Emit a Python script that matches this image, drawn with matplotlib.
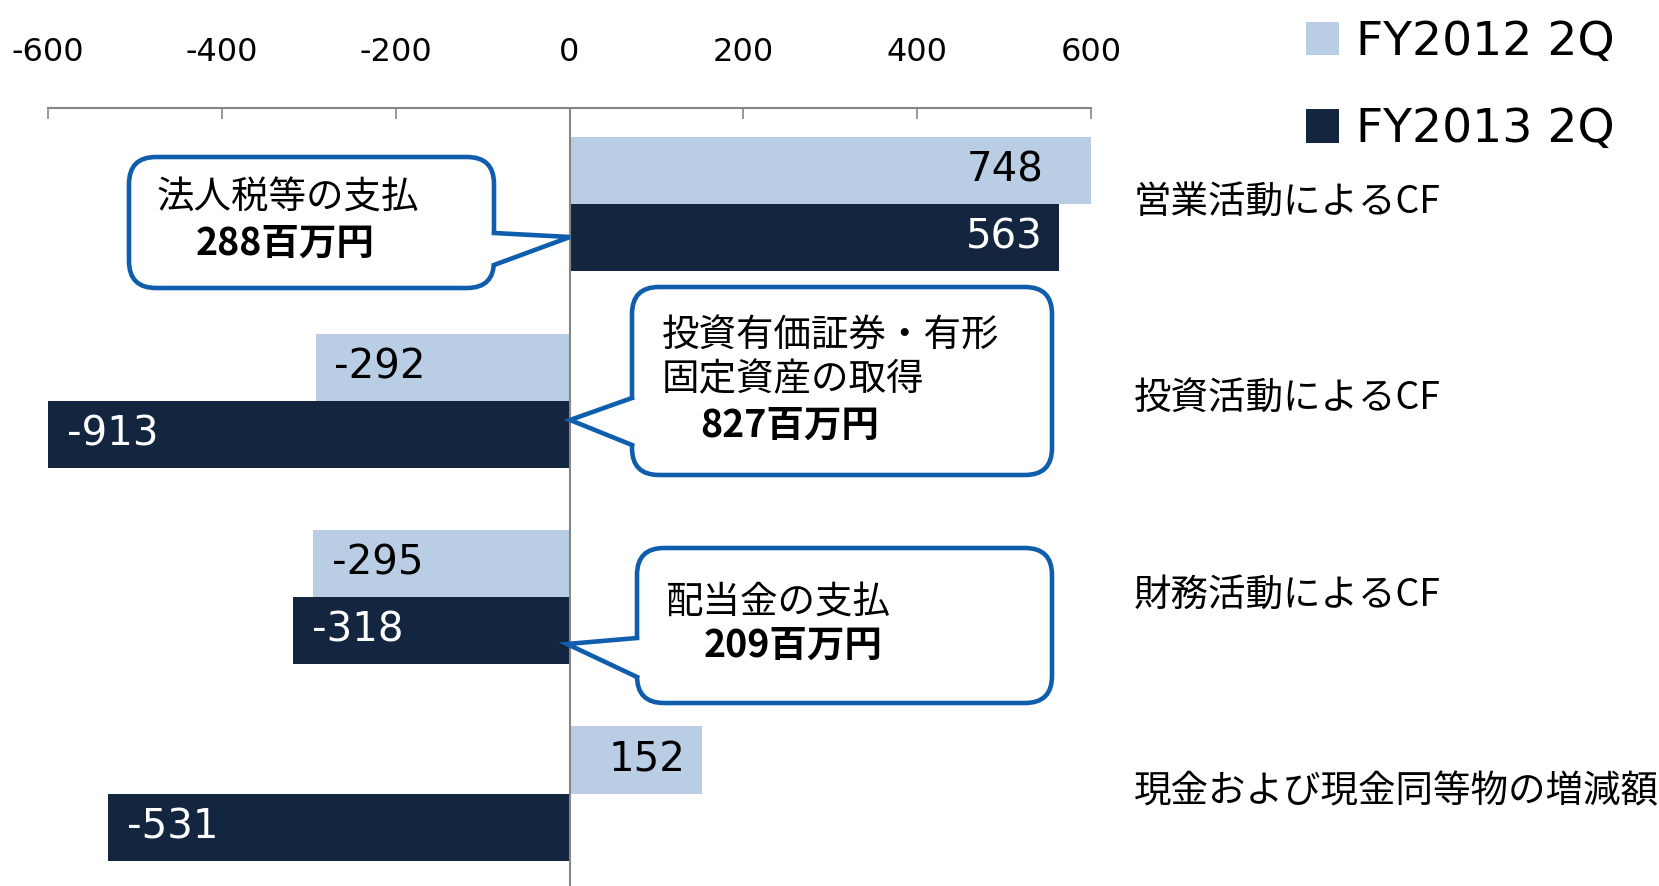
import matplotlib
matplotlib.use('Agg')
import matplotlib.pyplot as plt
from matplotlib.patches import FancyBboxPatch, Polygon, Patch
from matplotlib.lines import Line2D
from matplotlib.transforms import ScaledTranslation
import numpy as np

W, H = 1659, 886
JP = ['Noto Sans CJK JP', 'DejaVu Sans']

color_light = '#B9CDE5'
color_dark = '#13253F'
color_axis = '#868686'
color_callout = '#0F5EAD'

categories = ['営業活動によるCF', '投資活動によるCF', '財務活動によるCF', '現金および現金同等物の増減額']
series_names = ['FY2012 2Q', 'FY2013 2Q']
fy2012 = [748, -292, -295, 152]
fy2013 = [563, -913, -318, -531]
xticks = [-600, -400, -200, 0, 200, 400, 600]

# callouts: box (left, top, width, height), pointer base points and tip, text lines (pixel coords)
callouts = [
    dict(box=(129, 157, 365, 131), base=[(494, 233), (494, 265)], tip=(570, 237),
         lines=[('法人税等の支払', 157, 198, 'normal'), ('288百万円', 196, 243, 'bold')]),
    dict(box=(632, 287, 420, 188), base=[(632, 398), (632, 445)], tip=(570, 420),
         lines=[('投資有価証券・有形', 662, 335, 'normal'), ('固定資産の取得', 662, 380, 'normal'),
                ('827百万円', 700, 425, 'bold')]),
    dict(box=(637, 548, 415, 155), base=[(637, 638), (637, 677)], tip=(567, 644),
         lines=[('配当金の支払', 666, 602, 'normal'), ('209百万円', 704, 645, 'bold')]),
]

fig = plt.figure(figsize=(W / 100, H / 100), dpi=100)
ax = fig.add_axes([48 / W, 0, 1043 / W, 778 / H])

y = np.arange(len(categories))
h = 0.342
ax.barh(y - h / 2, fy2012, height=h, color=color_light, zorder=2)
ax.barh(y + h / 2, fy2013, height=h, color=color_dark, zorder=2)
ax.axvline(0, color=color_axis, lw=1.5, zorder=3)

xmin, xmax = xticks[0], xticks[-1]
ax.set_xlim(xmin, xmax)
ax.set_ylim(3.47, -0.49)

# value labels at inside end of the (clipped) bars
for vals, offs, tcol in [(fy2012, -h / 2, 'black'), (fy2013, h / 2, 'white')]:
    for i, v in enumerate(vals):
        xc = min(max(v, xmin), xmax)
        if v > 0:
            dx = -34 if v > xmax else -11.5
            ha = 'right'
        else:
            dx = 13.5
            ha = 'left'
        ax.annotate(str(v), (xc, i + offs), xytext=(dx, 0), textcoords='offset points',
                    ha=ha, va='center', fontsize=29, color=tcol, zorder=4)

ax.xaxis.tick_top()
ax.set_xticks(xticks, [str(t) for t in xticks])
ax.tick_params(axis='x', direction='in', length=8, width=1.2, color=color_axis, pad=29, labelsize=23)
ax.yaxis.tick_right()
ax.set_yticks(y, categories, family=JP, fontsize=27)
ax.tick_params(axis='y', length=0, pad=31)
shift_up = ScaledTranslation(0, 0.06, fig.dpi_scale_trans)
for lab in ax.get_yticklabels():
    lab.set_transform(lab.get_transform() + shift_up)
for s in ['left', 'right', 'bottom']:
    ax.spines[s].set_visible(False)
ax.spines['top'].set_color(color_axis)
ax.spines['top'].set_linewidth(1.5)

handles = [Patch(facecolor=color_light, edgecolor='none'), Patch(facecolor=color_dark, edgecolor='none')]
fig.legend(handles, series_names, loc='upper left', bbox_to_anchor=(1306 / W, 1 - 20 / H),
           frameon=False, fontsize=34, handlelength=0.70, handleheight=0.70,
           handletextpad=0.36, labelspacing=0.90, borderpad=0, borderaxespad=0)

# overlay in pixel units for the callouts
ov = fig.add_axes([0, 0, 1, 1])
ov.set_xlim(0, W)
ov.set_ylim(H, 0)
ov.axis('off')
for c in callouts:
    x0, y0, bw, bh = c['box']
    ov.add_patch(FancyBboxPatch((x0, y0), bw, bh, boxstyle='round,pad=0,rounding_size=27',
                                facecolor='white', edgecolor=color_callout, lw=3.3))
    (b1, b2), tip = c['base'], c['tip']
    inward = 6 if b1[0] <= x0 + 1 else -6
    ov.add_patch(Polygon([(b1[0] + inward, b1[1]), b1, tip, b2, (b2[0] + inward, b2[1])],
                         closed=True, facecolor='white', edgecolor='none'))
    ov.add_line(Line2D([b1[0], tip[0], b2[0]], [b1[1], tip[1], b2[1]], color=color_callout,
                       lw=3.3, solid_joinstyle='miter'))
    for txt, tx, ty, wt in c['lines']:
        ov.text(tx, ty, txt, ha='left', va='center', fontsize=27, fontweight=wt, family=JP)

fig.savefig('out.png', dpi=100)
